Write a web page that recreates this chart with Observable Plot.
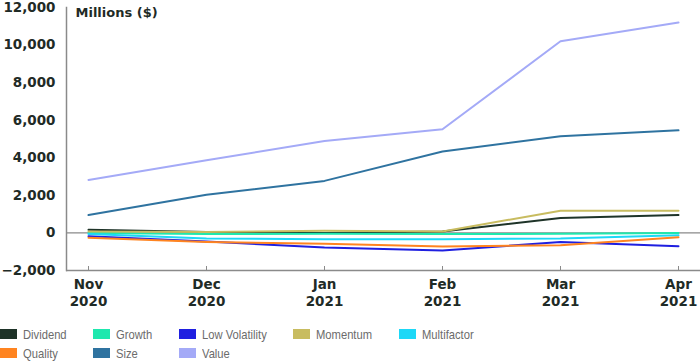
<!DOCTYPE html>
<html>
<head>
<meta charset="utf-8">
<script src="https://cdn.jsdelivr.net/npm/d3@7"></script>
<script src="https://cdn.jsdelivr.net/npm/@observablehq/plot@0.6"></script>
<style>
  body { margin: 0; background: #fff; }
  #chart { width: 700px; }
  .legend { display: grid; grid-template-columns: 93px 86px 114px 106px auto; row-gap: 3px;
    padding-top: 8px; font-family: "Liberation Sans", sans-serif;
    font-size: 13.5px; color: #6b6b6b; }
  .item { display: flex; align-items: center; height: 16px; }
  .sw { width: 17px; height: 10px; margin-right: 6px; flex: none; }
  .lab { display: inline-block; transform: scaleX(0.83); transform-origin: left center; white-space: nowrap; }
</style>
</head>
<body>
<div id="chart"></div>
<script>
const months = ["Nov\n2020", "Dec\n2020", "Jan\n2021", "Feb\n2021", "Mar\n2021", "Apr\n2021"];
const seriesNames = ["Dividend", "Growth", "Low Volatility", "Momentum", "Multifactor", "Quality", "Size", "Value"];
const colors = ["#1e3328", "#1ee8ae", "#1f1fe0", "#c8bc60", "#1dd8f7", "#ff8420", "#2f73a0", "#a4aaf7"];

const dividend      = [170, 50, 0, 80, 800, 950];
const growth        = [0, -60, -50, -60, -50, 0];
const lowVolatility = [-180, -450, -780, -940, -480, -710];
const momentum      = [80, 50, 120, 80, 1180, 1180];
const multifactor   = [-60, -300, -330, -330, -300, -120];
const quality       = [-260, -480, -580, -720, -660, -230];
const size          = [950, 2030, 2770, 4330, 5150, 5460];
const value         = [2820, 3870, 4890, 5520, 10200, 11200];

const yTicks = [-2000, 0, 2000, 4000, 6000, 8000, 10000, 12000];

const seriesValues = [dividend, growth, lowVolatility, momentum, multifactor, quality, size, value];
const data = seriesNames.flatMap((name, i) =>
  seriesValues[i].map((v, j) => ({ series: name, month: months[j], value: v })));

const font = "'DejaVu Sans', sans-serif";
const chart = Plot.plot({
  width: 700,
  height: 318,
  marginLeft: 66,
  marginRight: 0,
  marginTop: 7,
  marginBottom: 48,
  style: { fontFamily: font, background: "#fff" },
  x: { type: "point", domain: months, padding: 0, insetLeft: 21, insetRight: 21 },
  y: { domain: [-2000, 12000], ticks: yTicks },
  color: { domain: seriesNames, range: colors },
  marks: [
    Plot.ruleY([0], { stroke: "#8a8a8a", strokeWidth: 1.2 }),
    Plot.ruleY([-2000], { stroke: "#8a8a8a", strokeWidth: 1.5 }),
    Plot.frame({ anchor: "left", stroke: "#8a8a8a", strokeWidth: 1.5 }),
    Plot.axisY({ ticks: yTicks, tickSize: 0, tickPadding: 11, tickFormat: d3.format(","),
      fontSize: 13.5, fontWeight: "bold", fill: "#1f2b26", label: null }),
    Plot.axisX({ tickSize: 0, tickPadding: 7, fontSize: 13.5, fontWeight: "bold",
      fill: "#1f2b26", lineHeight: 1.25, label: null }),
    Plot.axisX({ tickSize: -4, text: null, stroke: "#8a8a8a", label: null }),
    Plot.text(["Millions ($)"], { frameAnchor: "top-left", dx: 9, dy: 0, fontSize: 13,
      fontWeight: "bold", fill: "#1f2b26", text: d => d }),
    Plot.line(data, { x: "month", y: "value", z: "series", stroke: "series", strokeWidth: 2 })
  ]
});
document.getElementById("chart").appendChild(chart);

const legend = document.createElement("div");
legend.className = "legend";
seriesNames.forEach((name, i) => {
  const item = document.createElement("div");
  item.className = "item";
  const sw = document.createElement("span");
  sw.className = "sw";
  sw.style.background = colors[i];
  const lab = document.createElement("span");
  lab.className = "lab";
  lab.textContent = name;
  item.appendChild(sw);
  item.appendChild(lab);
  legend.appendChild(item);
});
document.getElementById("chart").appendChild(legend);
</script>
</body>
</html>
